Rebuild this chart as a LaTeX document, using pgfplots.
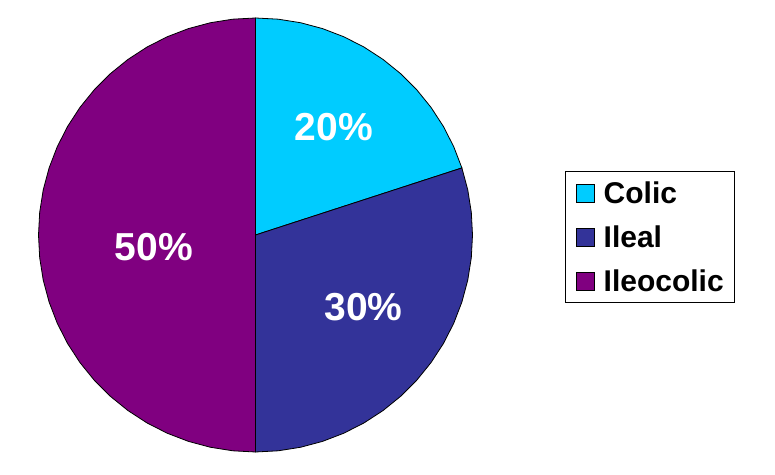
\documentclass[border=0pt]{standalone}
\usepackage{pgfplots}
\pgfplotsset{compat=1.18}
\usepackage{fontspec}
\setmainfont{Liberation Sans}

\definecolor{colic}{RGB}{0,204,255}
\definecolor{ileal}{RGB}{51,51,153}
\definecolor{ileocolic}{RGB}{128,0,128}

\begin{document}
\begin{tikzpicture}
\begin{axis}[
    width=775pt, height=474pt, scale only axis,
    hide axis, clip=false,
    xmin=-1.1774, xmax=2.3940,
    ymin=-1.1014, ymax=1.0829,
    data cs=polar,
    legend image code/.code={\draw[#1,draw=black,line width=0.6pt] (0pt,-9pt) rectangle (18pt,9pt);},
    legend cell align=left,
    legend style={
        at={(0.7290,0.6392)}, anchor=north west,
        draw=black, line width=1.2pt,
        inner xsep=10.5pt, inner ysep=11pt,
        row sep=23pt, column sep=9pt,
        font=\bfseries\fontsize{30}{30}\selectfont,
        nodes={inner sep=0pt, text height=21pt, text depth=0pt},
    },
]
% Colic 20%: 90 deg down to 18 deg
\addplot[fill=colic, draw=black, line width=0.8pt] coordinates {
    (0,0) (90,1) (84,1) (78,1) (72,1) (66,1) (60,1) (54,1) (48,1) (42,1)
    (36,1) (30,1) (24,1) (18,1) (0,0)
};
\addlegendentry{Colic}
% Ileal 30%: 18 deg down to -90 deg
\addplot[fill=ileal, draw=black, line width=0.8pt] coordinates {
    (0,0) (18,1) (12,1) (6,1) (0,1) (-6,1) (-12,1) (-18,1) (-24,1) (-30,1)
    (-36,1) (-42,1) (-48,1) (-54,1) (-60,1) (-66,1) (-72,1) (-78,1) (-84,1)
    (-90,1) (0,0)
};
\addlegendentry{Ileal}
% Ileocolic 50%: 90 deg round to 270 deg
\addplot[fill=ileocolic, draw=black, line width=0.8pt] coordinates {
    (0,0) (90,1) (96,1) (102,1) (108,1) (114,1) (120,1) (126,1) (132,1)
    (138,1) (144,1) (150,1) (156,1) (162,1) (168,1) (174,1) (180,1) (186,1)
    (192,1) (198,1) (204,1) (210,1) (216,1) (222,1) (228,1) (234,1) (240,1)
    (246,1) (252,1) (258,1) (264,1) (270,1) (0,0)
};
\addlegendentry{Ileocolic}

\node[text=white, font=\bfseries\fontsize{39}{39}\selectfont]
    at (axis cs:0.361,0.498) {20\%};
\node[text=white, font=\bfseries\fontsize{39}{39}\selectfont]
    at (axis cs:0.498,-0.332) {30\%};
\node[text=white, font=\bfseries\fontsize{39}{39}\selectfont]
    at (axis cs:-0.468,-0.055) {50\%};
\path (rel axis cs:0,0) rectangle (rel axis cs:1,1);
\end{axis}
\end{tikzpicture}
\end{document}
